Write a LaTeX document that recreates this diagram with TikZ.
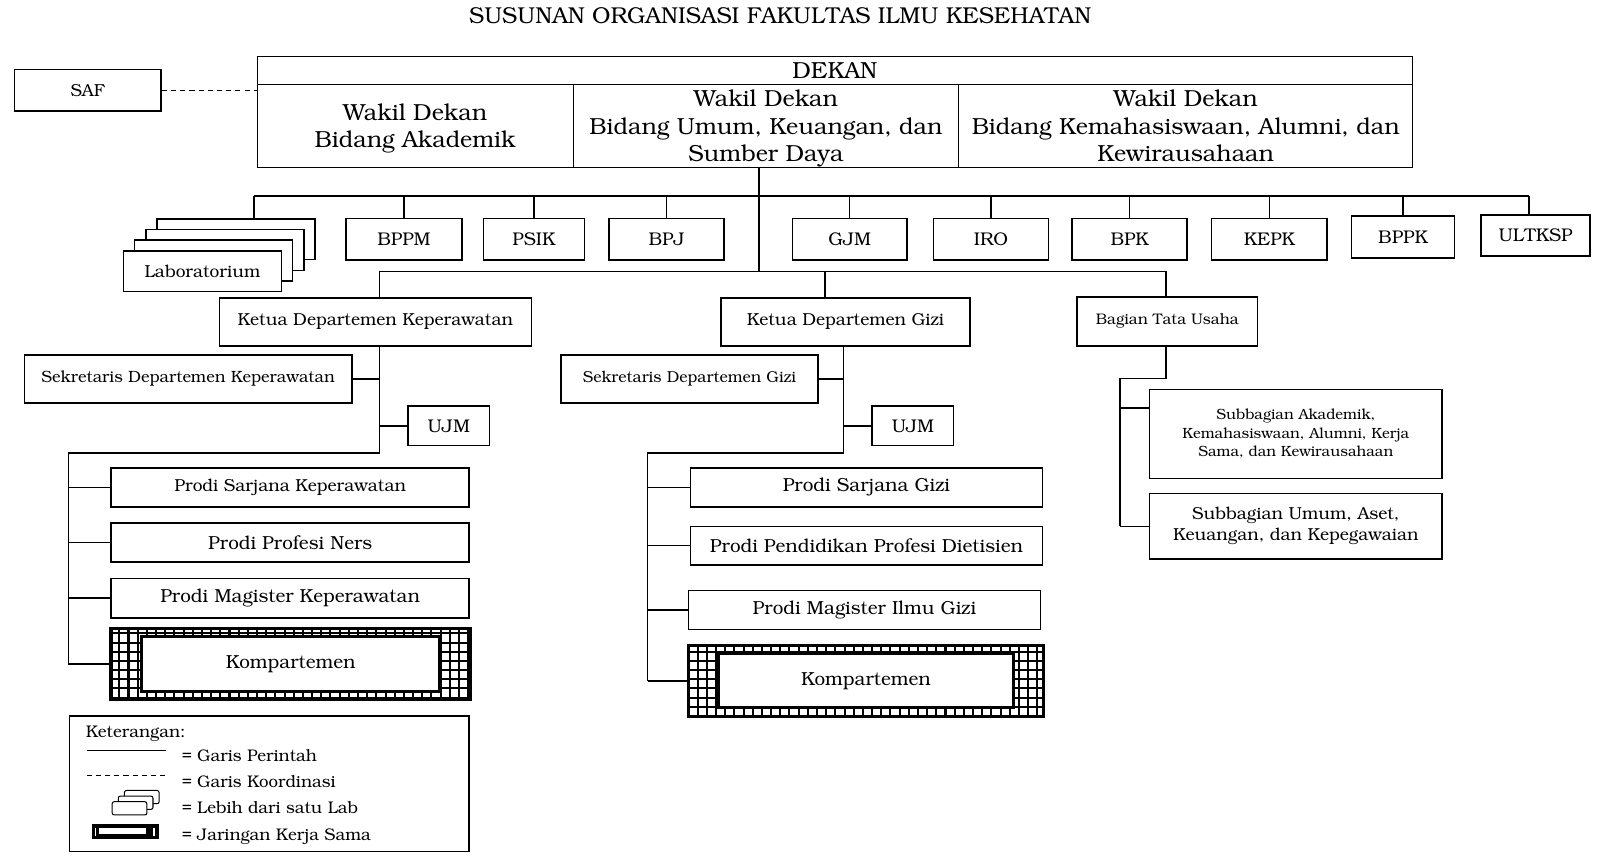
\documentclass[tikz,border=0pt]{standalone}
\usepackage[T1]{fontenc}
\usepackage{bookman}
\newcommand\fz[2]{\fontsize{#1}{#2}\selectfont}
\begin{document}
\begin{tikzpicture}[x=1pt,y=-1pt,
  box/.style={draw, line width=1.5pt, fill=white, inner sep=0pt, align=center},
  thinbox/.style={draw, line width=1pt, inner sep=0pt, align=center},
  wdbox/.style={thinbox, minimum height=81, font=\fz{22.8}{27}, text depth=0pt},
  topbox/.style={box, minimum height=41, font=\fz{18}{21}},
  labbox/.style={box, minimum width=155, minimum height=40, font=\fz{17}{20}},
  prodi/.style={box, minimum width=351, minimum height=38, font=\fz{18.5}{22}},
  prodig/.style={box, minimum width=345, minimum height=38, font=\fz{18.5}{22}},
  con/.style={line width=1.5pt},
  komprame/.style={inner sep=0pt},
  kompin/.style={draw, fill=white, line width=3pt, inner sep=0pt, font=\fz{18.5}{22}},
  legtext/.style={anchor=west, inner sep=0pt, font=\fz{16.5}{20}}
]
\useasboundingbox (0,0) rectangle (1568.7,851);
% title
\node[font=\fz{22.5}{26}] (title) at (765,15) {SUSUNAN ORGANISASI FAKULTAS ILMU KESEHATAN};
% top block
\node[box, minimum width=144, minimum height=41, font=\fz{17}{20}] (saf) at (86,88.5) {SAF};
\node[thinbox, minimum width=1133, minimum height=28, font=\fz{22.8}{27}] (dekan) at (818.5,69) {DEKAN};
\node[wdbox, minimum width=310] (wd1) at (407,123.5) {Wakil Dekan\\Bidang Akademik};
\node[wdbox, minimum width=378] (wd2) at (751,123.5) {Wakil Dekan\\Bidang Umum, Keuangan, dan\\Sumber Daya};
\node[wdbox, minimum width=445] (wd3) at (1162.5,123.5) {Wakil Dekan\\Bidang Kemahasiswaan, Alumni, dan\\Kewirausahaan};
\draw[line width=1.2pt, dash pattern=on 5pt off 4pt] (saf.east) -- (saf.east -| wd1.west);
% trunk and bus
\coordinate (tA) at (744,164);
\coordinate (tC) at (744,266);
\coordinate (b1L) at (249,192);
\coordinate (b1R) at (1499,192);
\draw[con] (wd2.south -| tA) -- (tC);
\draw[con] (b1L) -- (b1R);
% laboratorium stack
\node[labbox] (lab4) at (231.5,234.5) {};
\node[labbox] (lab3) at (220.5,245) {};
\node[labbox] (lab2) at (209.5,255.5) {};
\node[labbox] (lab1) at (198.5,266) {Laboratorium};
% top row boxes
\node[topbox, minimum width=114] (bppm) at (396,234.5) {BPPM};
\node[topbox, minimum width=99] (psik) at (523.5,234.5) {PSIK};
\node[topbox, minimum width=113] (bpj) at (653.5,234.5) {BPJ};
\node[topbox, minimum width=112] (gjm) at (833,234.5) {GJM};
\node[topbox, minimum width=113] (iro) at (971.5,234.5) {IRO};
\node[topbox, minimum width=113] (bpk) at (1107.5,234.5) {BPK};
\node[topbox, minimum width=113] (kepk) at (1244.5,234.5) {KEPK};
\node[topbox, minimum width=101] (bppk) at (1375.5,232.5) {BPPK};
\node[topbox, minimum width=107, minimum height=40] (ult) at (1505.5,231) {ULTKSP};
\draw[con] (b1L) -- (b1L |- lab4.north);
\draw[con] (b1R) -- (b1R |- ult.north);
\foreach \n in {bppm,psik,bpj,gjm,iro,bpk,kepk,bppk}
  \draw[con] (\n.north) -- (\n.north |- b1L);
% second bus
\coordinate (b2L) at (372,266);
\coordinate (b2M) at (809,266);
\coordinate (b2R) at (1143,266);
\draw[con] (b2L) -- (b2R);
\node[box, minimum width=306, minimum height=47, font=\fz{17}{20}] (ketK) at (368,315.5) {Ketua Departemen Keperawatan};
\node[box, minimum width=244, minimum height=47, font=\fz{17}{20}] (ketG) at (829,315.5) {Ketua Departemen Gizi};
\node[box, minimum width=177, minimum height=48, font=\fz{15}{18}] (btu) at (1144.5,315) {Bagian Tata Usaha};
\draw[con] (b2L) -- (b2L |- ketK.north);
\draw[con] (b2M) -- (b2M |- ketG.north);
\draw[con] (b2R) -- (b2R |- btu.north);
% Keperawatan
\node[box, minimum width=321, minimum height=47, font=\fz{16}{19}] (sekK) at (184.5,371.5) {Sekretaris Departemen Keperawatan};
\node[box, minimum width=80, minimum height=39, font=\fz{18}{21}] (ujmK) at (440,417.5) {UJM};
\node[prodi, font=\fz{17}{20}] (psk) at (284.5,478) {Prodi Sarjana Keperawatan};
\node[prodi] (ppn) at (284.5,532) {Prodi Profesi Ners};
\node[prodi, minimum height=39] (pmk) at (284.5,586.5) {Prodi Magister Keperawatan};
\node[komprame, minimum width=352, minimum height=70] (kompK) at (285,651) {};
\begin{scope}
  \clip (kompK.south west) rectangle (kompK.north east);
  \draw[line width=2pt, step=9pt] (kompK.south west) grid (kompK.north east);
\end{scope}
\draw[line width=3pt] (kompK.south west) rectangle (kompK.north east);
\node[kompin, minimum width=292, minimum height=54] (kompKi) at (kompK) {Kompartemen};
\coordinate (kA) at (372,444);
\coordinate (kB) at (67,444);
\draw[con] (ketK.south -| kA) -- (kA) -- (kB) -- (kB |- kompK.west);
\draw[con] (sekK.east) -- (sekK.east -| kA);
\draw[con] (ujmK.west) -- (ujmK.west -| kA);
\foreach \n in {psk,ppn,pmk,kompK}
  \draw[con] (\n.west) -- (\n.west -| kB);
% Gizi
\node[box, minimum width=252, minimum height=47, font=\fz{15.5}{19}] (sekG) at (676,371.5) {Sekretaris Departemen Gizi};
\node[box, minimum width=80, minimum height=39, font=\fz{18}{21}] (ujmG) at (895,417.5) {UJM};
\node[prodig] (psg) at (849.5,478) {Prodi Sarjana Gizi};
\node[prodig] (ppd) at (849.5,535) {Prodi Pendidikan Profesi Dietisien};
\node[prodig] (pmg) at (847.5,598) {Prodi Magister Ilmu Gizi};
\node[komprame, minimum width=348, minimum height=69] (kompG) at (849,667.5) {};
\begin{scope}
  \clip (kompG.south west) rectangle (kompG.north east);
  \draw[line width=2pt, step=9pt] (kompG.south west) grid (kompG.north east);
\end{scope}
\draw[line width=3pt] (kompG.south west) rectangle (kompG.north east);
\node[kompin, minimum width=289, minimum height=53] (kompGi) at (kompG) {Kompartemen};
\coordinate (gA) at (827,444);
\coordinate (gB) at (635,444);
\draw[con] (ketG.south -| gA) -- (gA) -- (gB) -- (gB |- kompG.west);
\draw[con] (sekG.east) -- (sekG.east -| gA);
\draw[con] (ujmG.west) -- (ujmG.west -| gA);
\foreach \n in {psg,ppd,pmg,kompG}
  \draw[con] (\n.west) -- (\n.west -| gB);
% Tata Usaha
\node[box, minimum width=287, minimum height=87, font=\fz{14.5}{18}] (subA) at (1270.5,425.5) {Subbagian Akademik,\\Kemahasiswaan, Alumni, Kerja\\Sama, dan Kewirausahaan};
\node[box, minimum width=287, minimum height=64, font=\fz{17}{21}] (subU) at (1270.5,516) {Subbagian Umum, Aset,\\Keuangan, dan Kepegawaian};
\coordinate (uA) at (1143,371);
\coordinate (uB) at (1098,371);
\coordinate (uC) at (1098,400);
\draw[con] (btu.south -| uA) -- (uA) -- (uB) -- (uB |- subU.west);
\draw[con] (uC) -- (uC -| subA.west);
\draw[con] (subU.west) -- (subU.west -| uB);
% legend
\node[box, minimum width=392, minimum height=133] (leg) at (264,768.5) {};
\node[legtext] (kt) at (84,719) {Keterangan:};
\coordinate (l1a) at (85,736);
\coordinate (l1b) at (163,736);
\draw[line width=1.2pt] (l1a) -- (l1b);
\node[legtext] (t1) at (178,741) {= Garis Perintah};
\coordinate (l2a) at (85,760);
\coordinate (l2b) at (163,760);
\draw[line width=1.2pt, dash pattern=on 5pt off 4pt] (l2a) -- (l2b);
\node[legtext] (t2) at (178,766) {= Garis Koordinasi};
\draw[line width=1pt, fill=white, rounded corners=2pt] (122,775) rectangle (156,788);
\draw[line width=1pt, fill=white, rounded corners=2pt] (116,780.5) rectangle (150,793.5);
\draw[line width=1pt, fill=white, rounded corners=2pt] (110,786) rectangle (144,799);
\node[legtext] (t3) at (178,792) {= Lebih dari satu Lab};
\fill[black] (90,808) rectangle (156,823);
\draw[line width=1pt, fill=white] (97,811) rectangle (144,818);
\fill[white] (93,812) rectangle (94.5,820);
\fill[white] (150,812) rectangle (151.5,820);
\node[legtext] (t4) at (178,820) {= Jaringan Kerja Sama};
\end{tikzpicture}
\end{document}
